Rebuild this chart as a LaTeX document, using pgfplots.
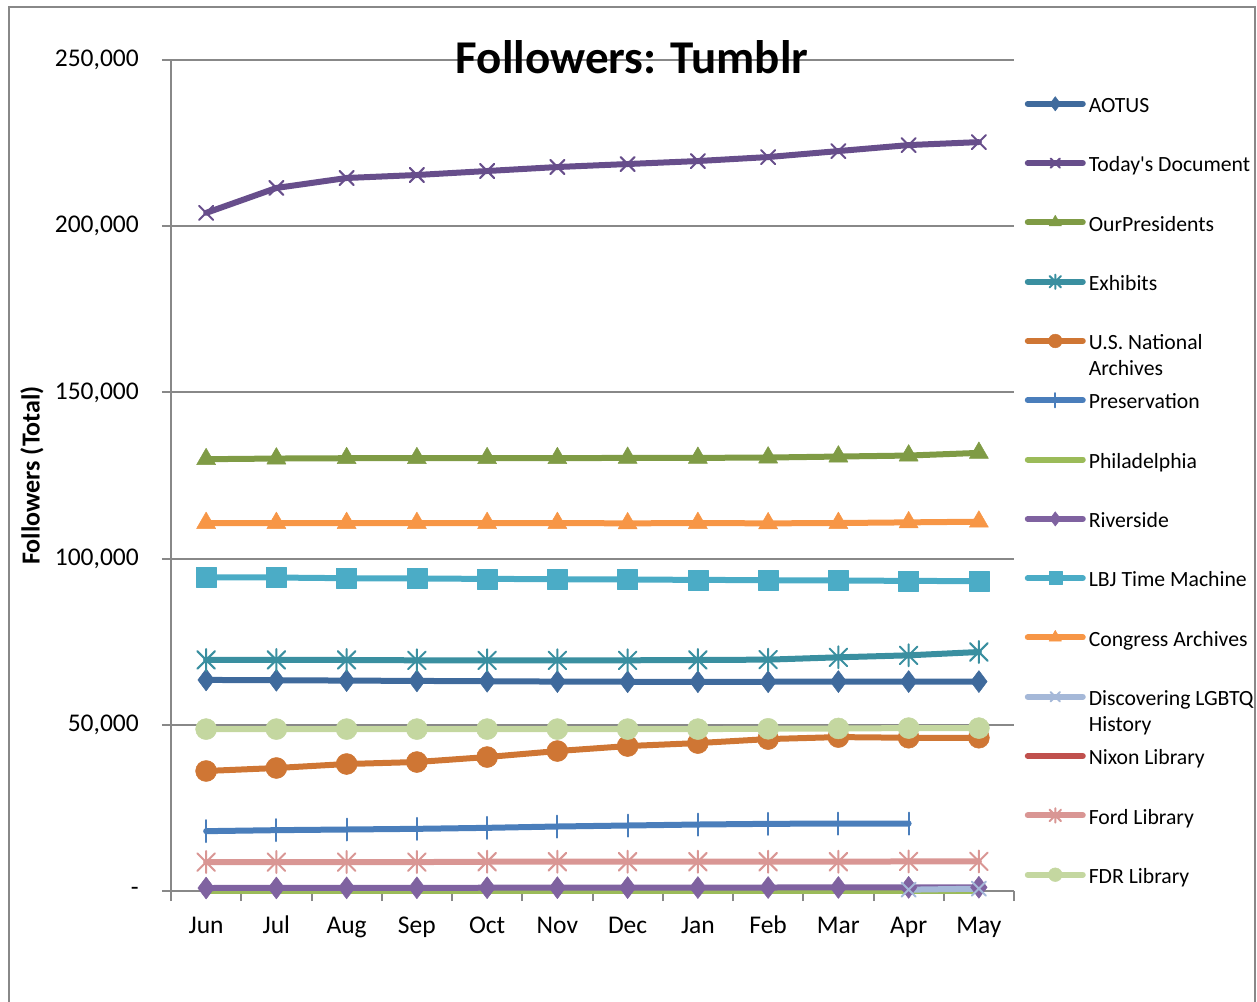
\documentclass[border=0pt]{standalone}
\usepackage{fontspec}
\setmainfont{Carlito}
\usepackage{pgfplots}
\pgfplotsset{compat=1.18}

\definecolor{caotus}{HTML}{3F6A9C}
\definecolor{ctoday}{HTML}{674E8B}
\definecolor{cpres}{HTML}{7F9B45}
\definecolor{cexh}{HTML}{3A8FA0}
\definecolor{cusna}{HTML}{CF7634}
\definecolor{cprsv}{HTML}{4A7EBB}
\definecolor{cphil}{HTML}{9BBB59}
\definecolor{criver}{HTML}{7F62A0}
\definecolor{clbj}{HTML}{4BACC6}
\definecolor{ccong}{HTML}{F79646}
\definecolor{clgbtq}{HTML}{A5B8D8}
\definecolor{cnixon}{HTML}{C0504D}
\definecolor{cford}{HTML}{D99694}
\definecolor{cfdr}{HTML}{C4D7A0}
\definecolor{framegray}{HTML}{888888}

% Excel-like asterisk: vertical bar plus an x
\pgfdeclareplotmark{xast}{%
  \pgfpathmoveto{\pgfqpoint{0pt}{\pgfplotmarksize}}%
  \pgfpathlineto{\pgfqpoint{0pt}{-\pgfplotmarksize}}%
  \pgfpathmoveto{\pgfqpoint{-.8\pgfplotmarksize}{-.8\pgfplotmarksize}}%
  \pgfpathlineto{\pgfqpoint{.8\pgfplotmarksize}{.8\pgfplotmarksize}}%
  \pgfpathmoveto{\pgfqpoint{-.8\pgfplotmarksize}{.8\pgfplotmarksize}}%
  \pgfpathlineto{\pgfqpoint{.8\pgfplotmarksize}{-.8\pgfplotmarksize}}%
  \pgfusepathqstroke}

\newcommand\ltwo[2]{\parbox[t]{6cm}{#1\\#2}}

\begin{document}
\begin{tikzpicture}
\useasboundingbox (0,0) rectangle (1257bp,1002bp);
\draw[framegray, line width=2.5bp] (9bp,-5bp) -- (9bp,995bp) -- (1255bp,995bp) -- (1255bp,-5bp);
\begin{axis}[
    at={(171bp,111bp)}, anchor=south west,
    scale only axis, width=843bp, height=831bp,
    xmin=-0.5, xmax=11.5,
    ymin=0, ymax=250000,
    scaled y ticks=false,
    clip=false,
    axis x line*=bottom, axis y line*=left,
    axis line style={framegray, line width=2bp, -},
    ymajorgrids=true,
    grid style={framegray, line width=2bp},
    tick align=outside,
    major tick length=9bp, minor tick length=10bp,
    tick style={framegray, line width=2bp},
    every major x tick/.append style={draw=none},
    xtick={0,...,11},
    xticklabels={Jun,Jul,Aug,Sep,Oct,Nov,Dec,Jan,Feb,Mar,Apr,May},
    minor xtick={-0.5,0.5,...,11.5},
    ytick={0,50000,100000,150000,200000,250000},
    yticklabels={{-\hspace{11bp}},{50,000},{100,000},{150,000},{200,000},{250,000}},
    ticklabel style={font=\fontsize{25.5bp}{30bp}\selectfont, inner sep=0pt},
    yticklabel style={xshift=-23bp},
    xticklabel style={anchor=base, yshift=-33bp},
    title={Followers: Tumblr},
    title style={font=\fontsize{47bp}{56bp}\selectfont\bfseries,
                 at={(axis description cs:0.5469,0.977)}, anchor=base, inner sep=0pt},
    ylabel={Followers (Total)},
    ylabel style={font=\fontsize{26bp}{30bp}\selectfont\bfseries,
                  at={(axis description cs:-0.1649,0.5)}, anchor=center, inner sep=0pt},
    every axis plot/.append style={line width=6bp, line cap=round, line join=round},
    legend style={draw=none, fill=none,
                  at={(1.009,0.976)}, anchor=north west,
                  font=\fontsize{21.7bp}{26bp}\selectfont,
                  nodes={inner sep=0pt, text height=30.3bp, text depth=29bp},
                  row sep=0pt, column sep=3bp},
    legend cell align=left,
    legend image code/.code={%
      \draw[mark repeat=2,mark phase=2,#1,yshift=8bp,
            every mark/.append style={scale=0.65}]
        plot coordinates {(0bp,0bp) (27.5bp,0bp) (55bp,0bp)};},
]

\addplot[color=caotus, mark=diamond*, mark size=11bp, mark options={solid, line width=0.5bp}]
  coordinates {(0,63500)(1,63400)(2,63300)(3,63200)(4,63100)(5,63000)(6,62950)(7,62950)(8,62950)(9,63000)(10,63000)(11,63000)};
\addlegendentry{AOTUS}

\addplot[color=ctoday, mark=x, mark size=10bp, mark options={solid, line width=2bp}]
  coordinates {(0,204000)(1,211500)(2,214500)(3,215400)(4,216600)(5,217800)(6,218700)(7,219600)(8,220800)(9,222600)(10,224400)(11,225300)};
\addlegendentry{Today\textquotesingle s Document}

\addplot[color=cpres, mark=triangle*, mark size=11bp, mark options={solid, line width=0.5bp}]
  coordinates {(0,129900)(1,130100)(2,130200)(3,130200)(4,130200)(5,130200)(6,130300)(7,130300)(8,130400)(9,130700)(10,131000)(11,131800)};
\addlegendentry{OurPresidents}

\addplot[color=cexh, mark=xast, mark size=11bp, mark options={solid, line width=2bp}]
  coordinates {(0,69500)(1,69500)(2,69500)(3,69400)(4,69400)(5,69400)(6,69400)(7,69500)(8,69600)(9,70300)(10,70900)(11,71900)};
\addlegendentry{Exhibits}

\addplot[color=cusna, mark=*, mark size=10.5bp, mark options={solid, line width=0.5bp}]
  coordinates {(0,36100)(1,37000)(2,38200)(3,38800)(4,40300)(5,42100)(6,43600)(7,44500)(8,45700)(9,46300)(10,46100)(11,46100)};
\addlegendentry{\ltwo{U.S. National}{Archives}}

\addplot[color=cprsv, mark=|, mark size=11bp, mark options={solid, line width=2bp}]
  coordinates {(0,18000)(1,18300)(2,18500)(3,18700)(4,19000)(5,19400)(6,19700)(7,20000)(8,20200)(9,20300)(10,20300)};
\addlegendentry{Preservation}

\addplot[color=cphil, no marks]
  coordinates {(0,150)(1,150)(2,150)(3,150)(4,150)(5,150)(6,150)(7,150)(8,150)(9,150)(10,150)(11,150)};
\addlegendentry{Philadelphia}

\addplot[color=criver, mark=diamond*, mark size=11bp, mark options={solid, line width=0.5bp}]
  coordinates {(0,900)(1,920)(2,940)(3,960)(4,980)(5,1000)(6,1010)(7,1030)(8,1050)(9,1070)(10,1090)(11,1110)};
\addlegendentry{Riverside}

\addplot[color=clbj, mark=square*, mark size=10bp, mark options={solid, line width=0.5bp}]
  coordinates {(0,94400)(1,94300)(2,94100)(3,94000)(4,93900)(5,93800)(6,93700)(7,93600)(8,93500)(9,93400)(10,93300)(11,93200)};
\addlegendentry{LBJ Time Machine}

\addplot[color=ccong, mark=triangle*, mark size=11bp, mark options={solid, line width=0.5bp}]
  coordinates {(0,110700)(1,110700)(2,110700)(3,110700)(4,110700)(5,110700)(6,110600)(7,110700)(8,110600)(9,110700)(10,110900)(11,111100)};
\addlegendentry{Congress Archives}

\addplot[color=clgbtq, mark=x, mark size=10bp, mark options={solid, line width=2bp}]
  coordinates {(10,400)(11,700)};
\addlegendentry{\ltwo{Discovering LGBTQ}{History}}

\addlegendimage{color=cnixon, no marks, line width=6bp, line cap=round}
\addlegendentry{Nixon Library}

\addplot[color=cford, mark=xast, mark size=11bp, mark options={solid, line width=2bp}]
  coordinates {(0,8700)(1,8700)(2,8700)(3,8700)(4,8800)(5,8800)(6,8800)(7,8800)(8,8800)(9,8800)(10,8900)(11,8900)};
\addlegendentry{Ford Library}

\addplot[color=cfdr, mark=*, mark size=10.5bp, mark options={solid, line width=0.5bp}]
  coordinates {(0,48700)(1,48700)(2,48700)(3,48700)(4,48700)(5,48700)(6,48700)(7,48700)(8,48800)(9,48900)(10,49000)(11,49000)};
\addlegendentry{FDR Library}

\end{axis}
\end{tikzpicture}
\end{document}
